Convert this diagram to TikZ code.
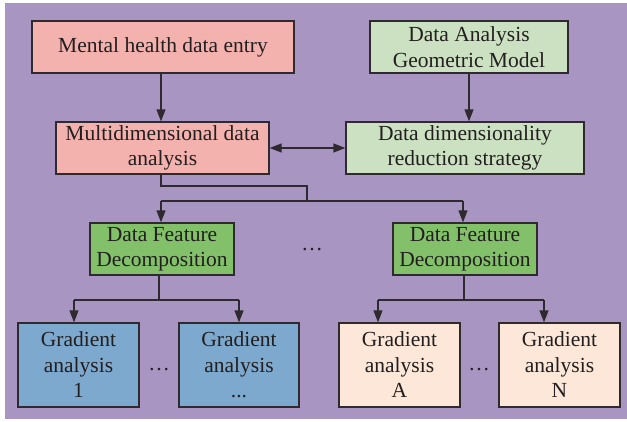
\documentclass[tikz,border=0pt]{standalone}
\usepackage{fontspec}
\setmainfont{Liberation Serif}
\usetikzlibrary{arrows.meta}
\definecolor{bgpurple}{HTML}{A995C1}
\definecolor{pinkbox}{HTML}{F4B2AE}
\definecolor{palegreen}{HTML}{CBE1C1}
\definecolor{midgreen}{HTML}{82C16A}
\definecolor{bluebox}{HTML}{7EA9CE}
\definecolor{peachbox}{HTML}{FDE7D8}
\definecolor{edgegray}{HTML}{2E2A30}
\definecolor{inkgray}{HTML}{231F20}
\begin{document}
\begin{tikzpicture}[x=1pt,y=-1pt,
  box/.style={draw=edgegray,line width=1.3pt,align=center,inner sep=0pt,
    font=\fontsize{21.5}{25.5}\selectfont,text=inkgray},
  link/.style={draw=edgegray,line width=1.3pt},
  arr/.style={link,-{Triangle[length=12pt,width=9pt]}},
  darr/.style={link,{Triangle[length=12pt,width=9pt]}-{Triangle[length=12pt,width=9pt]}},
  dots/.style={font=\fontsize{21.5}{25.5}\selectfont,text=inkgray}]
\useasboundingbox (0,0) rectangle (627,421);
\fill[white] (0,0) rectangle (627,421);
\fill[bgpurple] (5,3) rectangle (627,419);

% top two rows
\node[box,fill=pinkbox,minimum width=262pt,minimum height=52pt] (entry) at (163,47) {Mental health data entry};
\node[box,fill=pinkbox,minimum width=213pt,minimum height=52pt] (multi) at (162.5,148) {Multidimensional data\\analysis};
\node[box,fill=palegreen,minimum width=198pt,minimum height=52pt] (geom) at (469,47) {Data Analysis\\Geometric Model};
\node[box,fill=palegreen,minimum width=238pt,minimum height=52pt] (reduce) at (465,148) {Data dimensionality\\reduction strategy};

% feature decomposition
\node[box,fill=midgreen,minimum width=144pt,minimum height=52pt] (dfa) at (162,249) {Data Feature\\Decomposition};
\node[box,fill=midgreen,minimum width=144pt,minimum height=52pt] (dfb) at (465,249) {Data Feature\\Decomposition};
\node[dots] (dmid) at (312,250) {\dots};

% gradient analyses
\node[box,fill=bluebox,minimum width=121pt,minimum height=84pt] (g1) at (78.5,365) {Gradient\\analysis\\1};
\node[box,fill=bluebox,minimum width=120pt,minimum height=84pt] (g2) at (239,365) {Gradient\\analysis\\...};
\node[box,fill=peachbox,minimum width=121pt,minimum height=84pt] (ga) at (399.5,365) {Gradient\\analysis\\A};
\node[box,fill=peachbox,minimum width=121pt,minimum height=84pt] (gn) at (559.5,365) {Gradient\\analysis\\N};
\node[dots] (dl) at (159,370) {\dots};
\node[dots] (dr) at (479,370) {\dots};

% routing points
\coordinate (m1) at (161,186);
\coordinate (m2) at (307,186);
\coordinate (m3) at (307,201);
\coordinate (ba) at (161,201);
\coordinate (bb) at (463,201);
\coordinate (sa) at (159,300);
\coordinate (sb) at (464,300);
\coordinate (la) at (74,300);
\coordinate (ra) at (239,300);
\coordinate (lb) at (378,300);
\coordinate (rb) at (544,300);

% connectors
\draw[arr] (entry.south -| m1) -- (multi.north -| m1);
\draw[arr] (geom.south) -- (geom.south |- reduce.north);
\draw[darr] (multi.east) -- (reduce.west);
\draw[link] (multi.south -| m1) -- (m1) -- (m2) -- (m3);
\draw[link] (ba) -- (bb);
\draw[arr] (ba) -- (dfa.north -| ba);
\draw[arr] (bb) -- (dfb.north -| bb);
\draw[link] (dfa.south -| sa) -- (sa);
\draw[link] (la) -- (ra);
\draw[arr] (la) -- (g1.north -| la);
\draw[arr] (ra) -- (g2.north -| ra);
\draw[link] (dfb.south -| sb) -- (sb);
\draw[link] (lb) -- (rb);
\draw[arr] (lb) -- (ga.north -| lb);
\draw[arr] (rb) -- (gn.north -| rb);
\end{tikzpicture}
\end{document}
